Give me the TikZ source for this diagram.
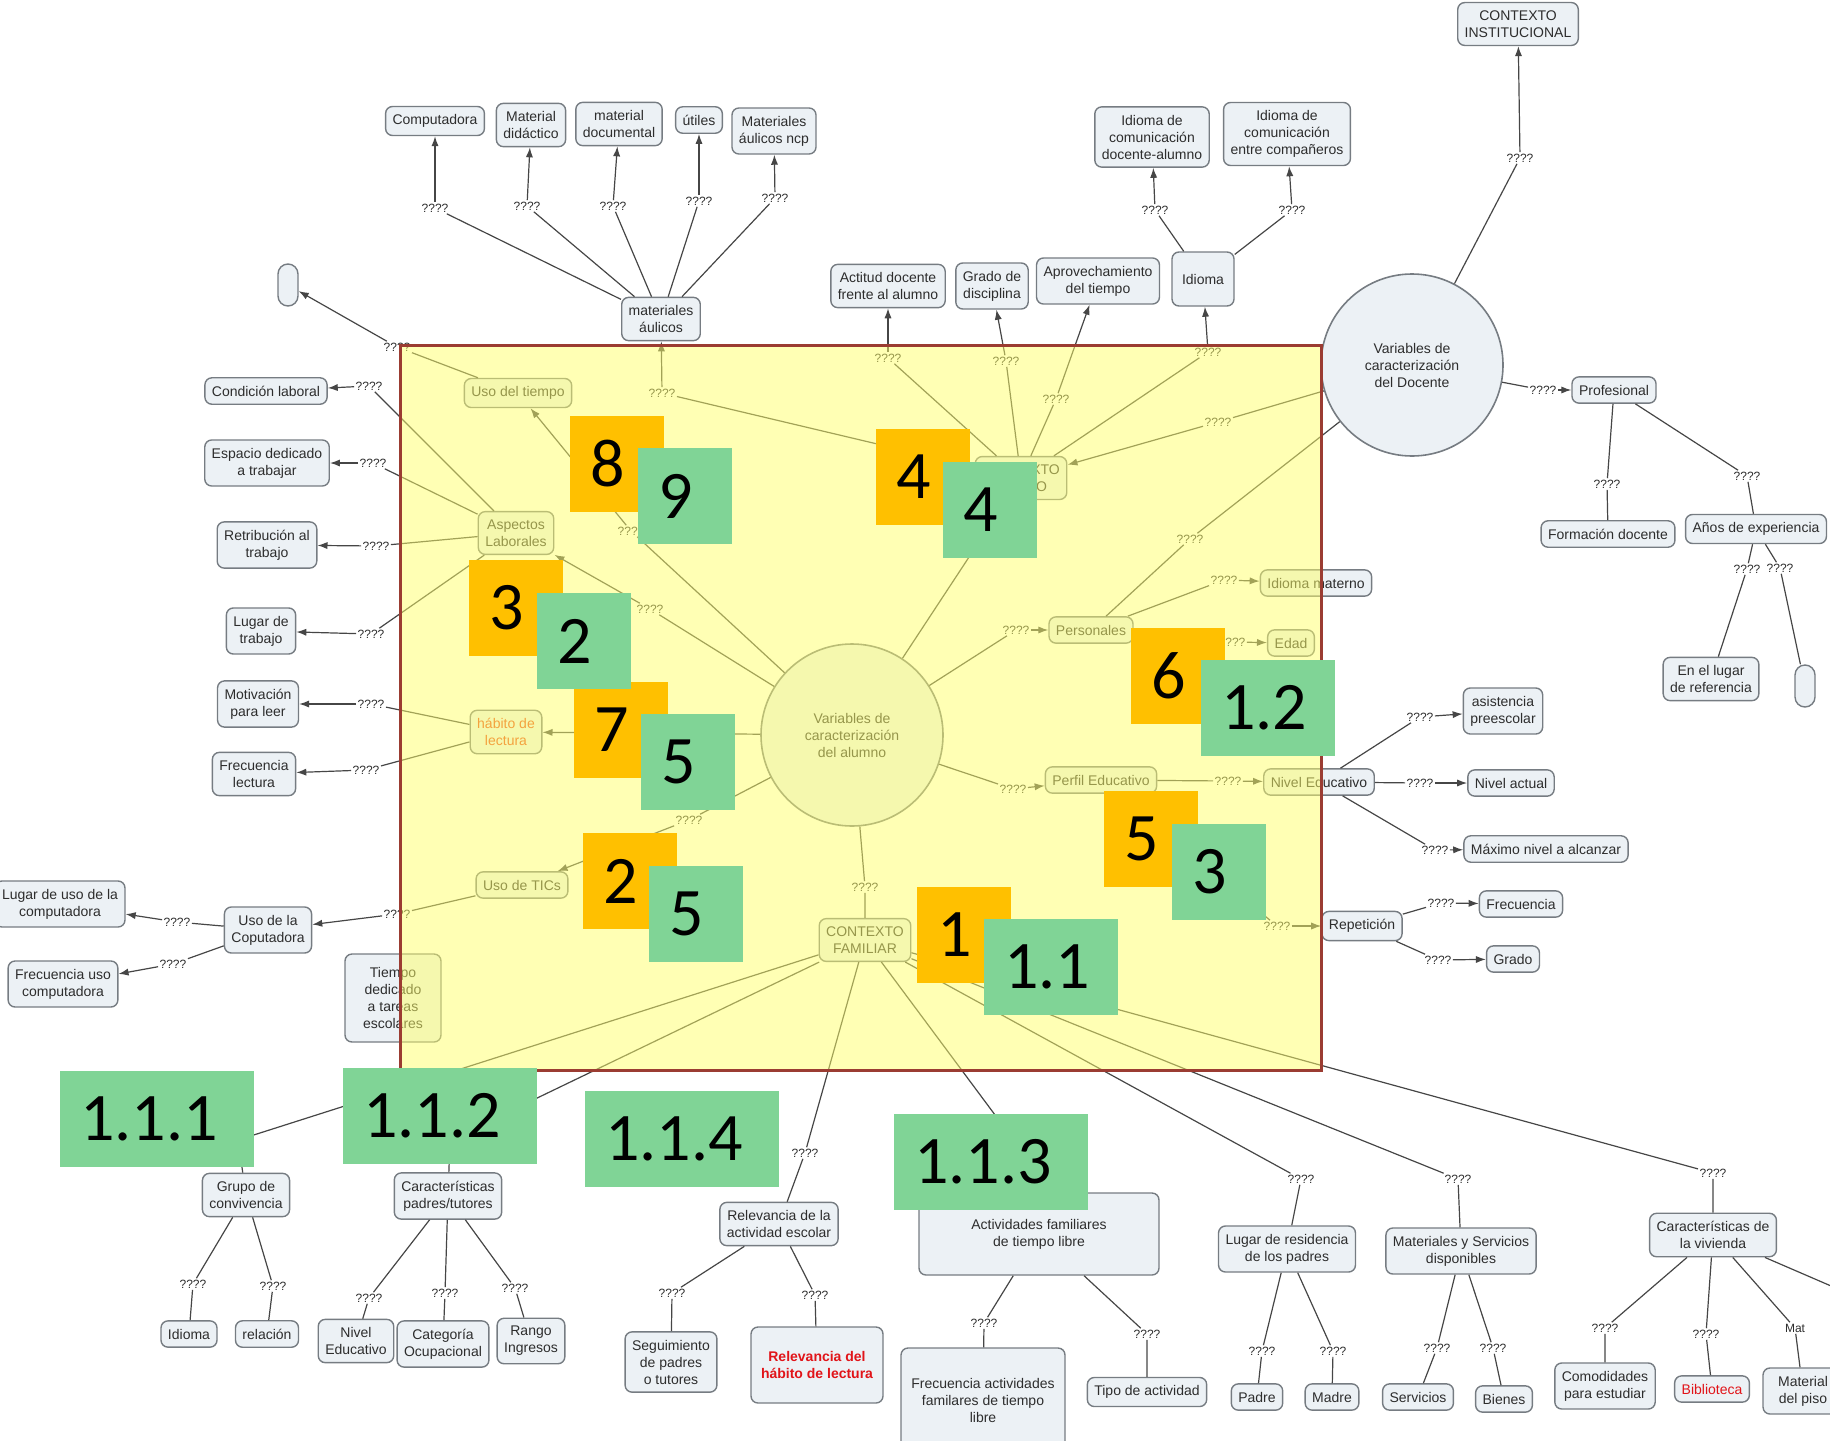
\documentclass[tikz,border=0pt]{standalone}
\usepackage{fontspec}
\setmainfont{Liberation Sans}
\newfontfamily\badgefont{Carlito}
\usetikzlibrary{arrows.meta}

\definecolor{boxfill}{RGB}{236,241,245}
\definecolor{boxline}{RGB}{118,124,130}
\definecolor{txtgray}{RGB}{45,45,45}
\definecolor{linkgray}{RGB}{70,70,70}
\definecolor{overlay}{RGB}{255,255,105}
\definecolor{framered}{RGB}{155,60,50}
\definecolor{badgeor}{RGB}{255,192,0}
\definecolor{badgegr}{RGB}{128,212,150}
\definecolor{habred}{RGB}{232,70,20}
\definecolor{relred}{RGB}{225,20,25}

\tikzset{
  box/.style={draw=boxline, fill=boxfill, rounded corners=3.5pt, line width=0.7pt, align=center,
    inner xsep=3.5pt, inner ysep=4pt, text=txtgray, font=\fontsize{7}{8.5}\selectfont},
  oval/.style={draw=boxline, fill=boxfill, rounded corners=5pt, line width=0.7pt,
    minimum width=10pt, minimum height=21pt, inner sep=0pt},
  circ/.style={circle, draw=boxline, fill=boxfill, line width=0.8pt, minimum size=91pt, align=center,
    inner sep=0pt, text=txtgray, font=\fontsize{7}{8.5}\selectfont},
  qq/.style={inner sep=0.6pt, text=txtgray, font=\fontsize{6}{6}\selectfont},
  link/.style={draw=linkgray, line width=0.6pt},
  arr/.style={link, -{Latex[length=5pt,width=3.6pt]}},
  obadge/.style={fill=badgeor, inner xsep=10pt, inner ysep=0pt, minimum height=48pt, text width=27pt,
    align=left, font=\badgefont\fontsize{34}{34}\selectfont},
  gbadge/.style={obadge, fill=badgegr},
}

\begin{document}
\begin{tikzpicture}[x=0.5pt,y=0.5pt,yscale=-1,xscale=1]
\useasboundingbox (0,0) rectangle (1830,1440);

\draw (435,121) node [box] (mcomp) {Computadora};
\draw (531,125) node [box] (mdid) {Material\\didáctico};
\draw (619,124) node [box] (mdoc) {material\\documental};
\draw (699,120) node [box] (mutil) {útiles};
\draw (774,131) node [box] (mncp) {Materiales\\áulicos ncp};
\draw (661,319) node [box] (maul) {materiales\\áulicos};
\draw (435,208) node [qq] (lcomp) {????};
\draw (527,206) node [qq] (ldid) {????};
\draw (613,206) node [qq] (ldoc) {????};
\draw (699,201) node [qq] (lutil) {????};
\draw (775,198) node [qq] (lncp) {????};
\draw (288,285) node [oval] (ovl) {};

\draw (888,286) node [box] (actd) {Actitud docente\\frente al alumno};
\draw (992,286) node [box] (grad) {Grado de\\disciplina};
\draw (1098,281) node [box] (aprov) {Aprovechamiento\\del tiempo};
\draw (1203,279) node [box, minimum width=31pt, minimum height=27pt] (idio) {Idioma};
\draw (1152,137) node [box] (idda) {Idioma de\\comunicación\\docente-alumno};
\draw (1287,134) node [box] (idcc) {Idioma de\\comunicación\\entre compañeros};
\draw (1155,210) node [qq] (lidda) {????};
\draw (1292,210) node [qq] (lidcc) {????};
\draw (1021,478) node [box] (ctxa) {CONTEXTO\\ÁULICO};
\draw (888,358) node [qq] (lactd) {????};
\draw (1006,361) node [qq] (lgrad) {????};
\draw (1056,399) node [qq] (laprov) {????};
\draw (1208,352) node [qq] (lidio) {????};
\draw (662,393) node [qq] (lmaul) {????};
\draw (1218,422) node [qq] (ldocx) {????};

\draw (1412,365) node [circ] (doc) {Variables de\\caracterización\\del Docente};
\draw (1518,24) node [box] (ctxi) {CONTEXTO\\INSTITUCIONAL};
\draw (1520,158) node [qq] (lctxi) {????};
\draw (1614,390) node [box] (prof) {Profesional};
\draw (1543,390) node [qq] (lprof) {????};
\draw (1608,534) node [box] (fdoc) {Formación docente};
\draw (1607,484) node [qq] (lfdoc) {????};
\draw (1756,529) node [box] (anos) {Años de experiencia};
\draw (1747,476) node [qq] (lanos) {????};
\draw (1747,569) node [qq] (llug) {????};
\draw (1780,568) node [qq] (lovr) {????};
\draw (1711,679) node [box] (enlug) {En el lugar\\de referencia};
\draw (1805,686) node [oval] (ovr) {};

\draw (852,735) node [circ] (alu) {Variables de\\caracterización\\del alumno};
\draw (518,393) node [box] (usot) {Uso del tiempo};
\draw (631,531) node [qq] (lusot) {????};
\draw (397,347) node [qq] (lovl) {????};
\draw (516,533) node [box] (aspl) {Aspectos\\Laborales};
\draw (650,609) node [qq] (laspl) {????};
\draw (266,391) node [box] (cond) {Condición laboral};
\draw (369,386) node [qq] (lcond) {????};
\draw (267,463) node [box] (espa) {Espacio dedicado\\a trabajar};
\draw (373,463) node [qq] (lespa) {????};
\draw (267,545) node [box] (retr) {Retribución al\\trabajo};
\draw (376,546) node [qq] (lretr) {????};
\draw (261,631) node [box] (lugt) {Lugar de\\trabajo};
\draw (371,634) node [qq] (llugt) {????};
\draw (506,732) node [box, text=habred] (habl) {hábito de\\lectura};
\draw (258,704) node [box] (moti) {Motivación\\para leer};
\draw (371,704) node [qq] (lmoti) {????};
\draw (254,774) node [box] (frel) {Frecuencia\\lectura};
\draw (366,770) node [qq] (lfrel) {????};
\draw (522,885) node [box] (tics) {Uso de TICs};
\draw (689,820) node [qq] (ltics) {????};
\draw (268,930) node [box] (ucomp) {Uso de la\\Coputadora};
\draw (397,914) node [qq] (lucomp) {????};
\draw (60,904) node [box] (lugc) {Lugar de uso de la\\computadora};
\draw (177,922) node [qq] (llugc) {????};
\draw (63,984) node [box] (frec) {Frecuencia uso\\computadora};
\draw (173,964) node [qq] (lfrec) {????};
\draw (393,998) node [box, minimum width=48pt, minimum height=44pt] (tiem) {Tiempo\\dedicado\\a tareas\\escolares};

\draw (1091,630) node [box] (pers) {Personales};
\draw (1016,630) node [qq] (lpers) {????};
\draw (1316,583) node [box] (idim) {Idioma materno};
\draw (1224,580) node [qq] (lidim) {????};
\draw (1291,643) node [box] (edad) {Edad};
\draw (1232,642) node [qq] (ledad) {????};
\draw (1190,539) node [qq] (lpdoc) {????};
\draw (1101,780) node [box] (perf) {Perfil Educativo};
\draw (1013,789) node [qq] (lperf) {????};
\draw (1319,782) node [box] (nived) {Nivel Educativo};
\draw (1228,781) node [qq] (lnived) {????};
\draw (1503,711) node [box] (asis) {asistencia\\preescolar};
\draw (1420,717) node [qq] (lasis) {????};
\draw (1511,783) node [box] (niva) {Nivel actual};
\draw (1420,783) node [qq] (lniva) {????};
\draw (1546,849) node [box] (maxn) {Máximo nivel a alcanzar};
\draw (1435,850) node [qq] (lmaxn) {????};
\draw (1362,926) node [box] (repe) {Repetición};
\draw (1277,926) node [qq] (lrepe) {????};
\draw (1521,904) node [box] (frecr) {Frecuencia};
\draw (1441,903) node [qq] (lfrecr) {????};
\draw (1513,959) node [box] (grado) {Grado};
\draw (1438,960) node [qq] (lgrado) {????};

\draw (865,940) node [box] (ctxf) {CONTEXTO\\FAMILIAR};
\draw (865,887) node [qq] (lctxf) {????};
\draw (246,1195) node [box] (grup) {Grupo de\\convivencia};
\coordinate (lgrup) at (238,1140);
\draw (448,1196) node [box] (cara) {Características\\padres/tutores};
\coordinate (lcara) at (450,1140);
\draw (779,1224) node [box] (rele) {Relevancia de la\\actividad escolar};
\draw (805,1153) node [qq] (lrele) {????};
\draw (1039,1234) node [box, minimum width=120pt, minimum height=41pt] (acti) {Actividades familiares\\de tiempo libre};
\coordinate (lacti) at (1030,1162);
\draw (1287,1249) node [box] (lugr) {Lugar de residencia\\de los padres};
\draw (1301,1179) node [qq] (llugr) {????};
\draw (1461,1251) node [box] (mats) {Materiales y Servicios\\disponibles};
\draw (1458,1179) node [qq] (lmats) {????};
\draw (1713,1235) node [box] (carv) {Características de\\la vivienda};
\draw (1713,1173) node [qq] (lcarv) {????};

\draw (189,1334) node [box] (gidi) {Idioma};
\draw (193,1284) node [qq] (lgidi) {????};
\draw (267,1334) node [box] (grel) {relación};
\draw (273,1286) node [qq] (lgrel) {????};
\draw (356,1341) node [box] (cniv) {Nivel\\Educativo};
\draw (369,1298) node [qq] (lcniv) {????};
\draw (443,1344) node [box] (ccat) {Categoría\\Ocupacional};
\draw (445,1293) node [qq] (lccat) {????};
\draw (531,1341) node [box] (cran) {Rango\\Ingresos};
\draw (515,1288) node [qq] (lcran) {????};
\draw (671,1362) node [box] (rseg) {Seguimiento\\de padres\\o tutores};
\draw (672,1293) node [qq] (lrseg) {????};
\draw (817,1365) node [box, minimum width=66pt, minimum height=38pt, text=relred, font=\fontsize{7}{8.5}\selectfont\bfseries] (rhab) {Relevancia del\\hábito de lectura};
\draw (815,1295) node [qq] (lrhab) {????};
\draw (983,1400) node [box, minimum width=82pt, minimum height=52pt] (afre) {Frecuencia actividades\\familares de tiempo\\libre};
\draw (984,1323) node [qq] (lafre) {????};
\draw (1147,1392) node [box] (atip) {Tipo de actividad};
\draw (1147,1334) node [qq] (latip) {????};
\draw (1257,1397) node [box] (padr) {Padre};
\draw (1262,1351) node [qq] (lpadr) {????};
\draw (1332,1397) node [box] (madr) {Madre};
\draw (1333,1351) node [qq] (lmadr) {????};
\draw (1418,1397) node [box] (serv) {Servicios};
\draw (1437,1348) node [qq] (lserv) {????};
\draw (1504,1399) node [box] (bien) {Bienes};
\draw (1493,1348) node [qq] (lbien) {????};
\draw (1605,1386) node [box] (como) {Comodidades\\para estudiar};
\draw (1605,1328) node [qq] (lcomo) {????};
\draw (1712,1389) node [box, text=relred] (bibl) {Biblioteca};
\draw (1706,1334) node [qq] (lbibl) {????};
\draw (1803,1391) node [box, minimum width=40pt] (mpis) {Material\\del piso};
\draw (1795,1328) node [qq] (lmpis) {Mat};
\coordinate (cvout) at (1845,1292);

\draw [link] (maul) -- (lcomp) (maul) -- (ldid) (maul) -- (ldoc) (maul) -- (lutil) (maul) -- (lncp);
\draw [arr] (lcomp) -- (mcomp);
\draw [arr] (ldid) -- (mdid);
\draw [arr] (ldoc) -- (mdoc);
\draw [arr] (lutil) -- (mutil);
\draw [arr] (lncp) -- (mncp);
\draw [link] (ctxa) -- (lmaul) (ctxa) -- (lactd) (ctxa) -- (lgrad) (ctxa) -- (laprov) (ctxa) -- (lidio);
\draw [arr] (lmaul) -- (maul);
\draw [arr] (lactd) -- (actd);
\draw [arr] (lgrad) -- (grad);
\draw [arr] (laprov) -- (aprov);
\draw [arr] (lidio) -- (idio);
\draw [link] (idio) -- (lidda) (idio) -- (lidcc);
\draw [arr] (lidda) -- (idda);
\draw [arr] (lidcc) -- (idcc);
\draw [link] (doc) -- (lctxi) (doc) -- (ldocx) (doc) -- (lprof) (doc) -- (lpdoc);
\draw [arr] (lctxi) -- (ctxi);
\draw [arr] (ldocx) -- (ctxa);
\draw [arr] (lprof) -- (prof);
\draw [link] (prof) -- (lfdoc) -- (fdoc);
\draw [link] (prof) -- (lanos) -- (anos);
\draw [link] (anos) -- (llug) -- (enlug);
\draw [link] (anos) -- (lovr) -- (ovr);
\draw [link] (lpdoc) -- (pers);

\draw [link] (alu) -- (ctxa);
\draw [link] (alu) -- (lusot) (usot) -- (lovl);
\draw [arr] (lusot) -- (usot);
\draw [arr] (lovl) -- (ovl);
\draw [link] (alu) -- (laspl);
\draw [arr] (laspl) -- (aspl);
\draw [link] (aspl) -- (lcond) (aspl) -- (lespa) (aspl) -- (lretr) (aspl) -- (llugt);
\draw [arr] (lcond) -- (cond);
\draw [arr] (lespa) -- (espa);
\draw [arr] (lretr) -- (retr);
\draw [arr] (llugt) -- (lugt);
\draw [arr] (alu) -- (habl);
\draw [link] (habl) -- (lmoti) (habl) -- (lfrel);
\draw [arr] (lmoti) -- (moti);
\draw [arr] (lfrel) -- (frel);
\draw [link] (alu) -- (ltics) (tics) -- (lucomp);
\draw [arr] (ltics) -- (tics);
\draw [arr] (lucomp) -- (ucomp);
\draw [link] (ucomp) -- (llugc) (ucomp) -- (lfrec);
\draw [arr] (llugc) -- (lugc);
\draw [arr] (lfrec) -- (frec);
\draw [link] (alu) -- (lpers) (pers) -- (lidim) (pers) -- (ledad);
\draw [arr] (lpers) -- (pers);
\draw [arr] (lidim) -- (idim);
\draw [arr] (ledad) -- (edad);
\draw [link] (alu) -- (lperf) (perf) -- (lnived) (perf) -- (lrepe);
\draw [arr] (lperf) -- (perf);
\draw [arr] (lnived) -- (nived);
\draw [arr] (lrepe) -- (repe);
\draw [link] (nived) -- (lasis) (nived) -- (lniva) (nived) -- (lmaxn);
\draw [arr] (lasis) -- (asis);
\draw [arr] (lniva) -- (niva);
\draw [arr] (lmaxn) -- (maxn);
\draw [link] (repe) -- (lfrecr) (repe) -- (lgrado);
\draw [arr] (lfrecr) -- (frecr);
\draw [arr] (lgrado) -- (grado);

\draw [link] (alu) -- (lctxf) -- (ctxf);
\draw [link] (ctxf) -- (lgrup) -- (grup);
\draw [link] (ctxf) -- (lcara) -- (cara);
\draw [link] (ctxf) -- (lrele) -- (rele);
\draw [link] (ctxf) -- (lacti) -- (acti);
\draw [link] (ctxf) -- (llugr) -- (lugr);
\draw [link] (ctxf) -- (lmats) -- (mats);
\draw [link] (ctxf) -- (lcarv) -- (carv);
\draw [link] (grup) -- (lgidi) -- (gidi);
\draw [link] (grup) -- (lgrel) -- (grel);
\draw [link] (cara) -- (lcniv) -- (cniv);
\draw [link] (cara) -- (lccat) -- (ccat);
\draw [link] (cara) -- (lcran) -- (cran);
\draw [link] (rele) -- (lrseg) -- (rseg);
\draw [link] (rele) -- (lrhab) -- (rhab);
\draw [link] (acti) -- (lafre) -- (afre);
\draw [link] (acti) -- (latip) -- (atip);
\draw [link] (lugr) -- (lpadr) -- (padr);
\draw [link] (lugr) -- (lmadr) -- (madr);
\draw [link] (mats) -- (lserv) -- (serv);
\draw [link] (mats) -- (lbien) -- (bien);
\draw [link] (carv) -- (lcomo) -- (como);
\draw [link] (carv) -- (lbibl) -- (bibl);
\draw [link] (carv) -- (lmpis) -- (mpis);
\draw [link] (carv) -- (cvout);

\draw [draw=framered, line width=1.5pt, fill=overlay, fill opacity=0.5] (400,345) rectangle (1321,1070);

\draw (617,464) node [obadge] (o8) {8};
\draw (516,608) node [obadge] (o3) {3};
\draw (621,730) node [obadge] (o7) {7};
\draw (630,881) node [obadge] (o2) {2};
\draw (923,477) node [obadge] (o4) {4};
\draw (1178,676) node [obadge] (o6) {6};
\draw (1151,839) node [obadge] (o5) {5};
\draw (964,935) node [obadge] (o1) {1};
\draw (685,496) node [gbadge] (g9) {9};
\draw (584,641) node [gbadge] (g2) {2};
\draw (688,762) node [gbadge] (g5a) {5};
\draw (696,914) node [gbadge] (g5b) {5};
\draw (990,510) node [gbadge] (g4) {4};
\draw (1268,708) node [gbadge, text width=47pt] (g12) {1.2};
\draw (1219,872) node [gbadge] (g3) {3};
\draw (1051,967) node [gbadge, text width=47pt] (g11) {1.1};
\draw (157,1119) node [gbadge, text width=77pt] (g111) {1.1.1};
\draw (440,1116) node [gbadge, text width=77pt] (g112) {1.1.2};
\draw (682,1139) node [gbadge, text width=77pt] (g114) {1.1.4};
\draw (991,1162) node [gbadge, text width=77pt] (g113) {1.1.3};
\end{tikzpicture}
\end{document}
